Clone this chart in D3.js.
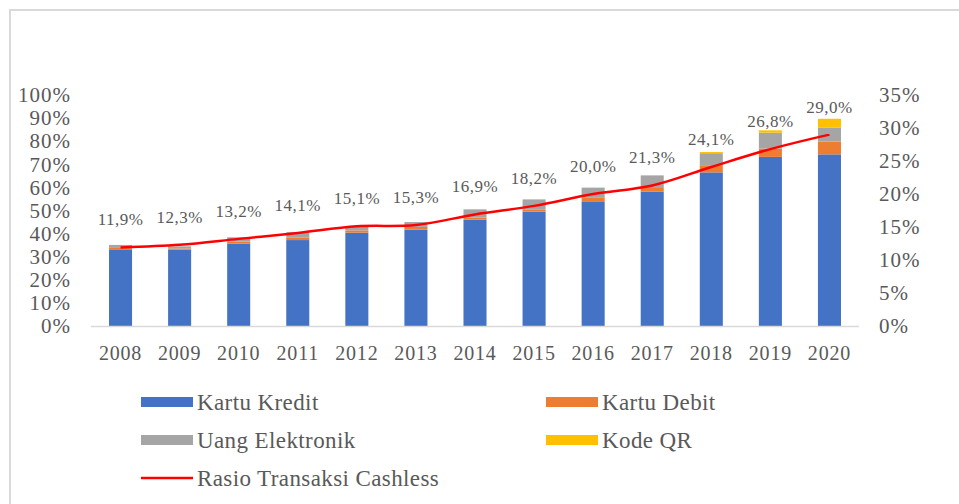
<!DOCTYPE html>
<html>
<head>
<meta charset="utf-8">
<script src="https://cdn.jsdelivr.net/npm/d3@7"></script>
<style>
  body { margin: 0; background: #fff; }
  svg text { font-family: "Liberation Serif", "Times New Roman", serif; fill: #595959; }
</style>
</head>
<body>
<svg width="959" height="504"></svg>
<script>
const years = ["2008","2009","2010","2011","2012","2013","2014","2015","2016","2017","2018","2019","2020"]

// share of each instrument (%), stacked
const kartuKredit = [33.2, 33.0, 35.6, 37.2, 40.4, 41.7, 46.0, 49.5, 53.7, 58.1, 66.5, 73.2, 74.3]
const kartuDebit = [0.9, 0.6, 0.9, 1.0, 1.0, 1.2, 0.9, 1.0, 2.0, 2.0, 2.8, 3.6, 5.5]
const uangElektronik = [1.0, 0.9, 1.9, 2.4, 1.6, 2.1, 3.6, 4.3, 4.2, 5.1, 5.5, 6.9, 6.0]
const kodeQR = [0, 0, 0, 0, 0, 0, 0, 0, 0, 0, 0.5, 1.0, 3.9]

// cashless transaction ratio (%), right axis
const rasio = [11.9, 12.3, 13.2, 14.1, 15.1, 15.3, 16.9, 18.2, 20.0, 21.3, 24.1, 26.8, 29.0]

const leftTicks = [0,10,20,30,40,50,60,70,80,90,100]
const rightTicks = [0,5,10,15,20,25,30,35]

const seriesNames = ["Kartu Kredit", "Kartu Debit", "Uang Elektronik", "Kode QR"]
const colors = ["#4472c4", "#ed7d31", "#a5a5a5", "#ffc000"]

const svg = d3.select("svg")

// outer frame
svg.append("path")
    .attr("d", "M10,504 V10 H959")
    .attr("fill", "none")
    .attr("stroke", "#d9d9d9")
    .attr("stroke-width", 2)

const x = d3.scaleBand()
    .domain(years)
    .range([91, 859])
    .paddingInner(0.61)
    .paddingOuter(0.305)

const yLeft = d3.scaleLinear().domain([0, 100]).range([326, 95])
const yRight = d3.scaleLinear().domain([0, 35]).range([326, 95])

const table = years.map((yr, i) => ({
    year: yr,
    "Kartu Kredit": kartuKredit[i],
    "Kartu Debit": kartuDebit[i],
    "Uang Elektronik": uangElektronik[i],
    "Kode QR": kodeQR[i]
}))

const stacked = d3.stack().keys(seriesNames)(table)

svg.append("g")
    .selectAll("g")
    .data(stacked)
    .join("g")
    .attr("fill", (d, i) => colors[i])
    .selectAll("rect")
    .data(d => d)
    .join("rect")
    .attr("x", d => x(d.data.year))
    .attr("width", x.bandwidth())
    .attr("y", d => yLeft(d[1]))
    .attr("height", d => yLeft(d[0]) - yLeft(d[1]))

// baseline
svg.append("line")
    .attr("x1", 91).attr("x2", 859)
    .attr("y1", yLeft(0) + 0.5).attr("y2", yLeft(0) + 0.5)
    .attr("stroke", "#d9d9d9")
    .attr("stroke-width", 1.5)

// left axis
const leftAxis = svg.append("g")
    .attr("transform", "translate(71,0)")
    .call(d3.axisLeft(yLeft).tickValues(leftTicks).tickSize(0).tickPadding(0).tickFormat(d => d + "%"))
leftAxis.select(".domain").remove()

// right axis
const rightAxis = svg.append("g")
    .attr("transform", "translate(879,0)")
    .call(d3.axisRight(yRight).tickValues(rightTicks).tickSize(0).tickPadding(0).tickFormat(d => d + "%"))
rightAxis.select(".domain").remove()

// x axis labels
const xAxis = svg.append("g")
    .attr("transform", "translate(0,346)")
    .call(d3.axisBottom(x).tickSize(0).tickPadding(0))
xAxis.select(".domain").remove()

svg.selectAll(".tick text")
    .style("font-family", "Liberation Serif, serif")
    .style("font-size", "21px")
    .style("letter-spacing", "1px")
    .attr("fill", "#595959")

xAxis.selectAll(".tick text")
    .style("font-size", "20px")
    .style("letter-spacing", "0.8px")

// ratio line
const cx = d => x(d) + x.bandwidth() / 2
const lineGen = d3.line()
    .x((d, i) => cx(years[i]))
    .y(d => yRight(d))
    .curve(d3.curveCatmullRom)

svg.append("path")
    .datum(rasio)
    .attr("d", lineGen)
    .attr("fill", "none")
    .attr("stroke", "#ff0000")
    .attr("stroke-width", 2.5)

// data labels
svg.append("g")
    .selectAll("text")
    .data(rasio)
    .join("text")
    .attr("x", (d, i) => cx(years[i]))
    .attr("y", d => yRight(d) - 22)
    .attr("text-anchor", "middle")
    .style("font-size", "17px")
    .style("letter-spacing", "0.5px")
    .text(d => d.toFixed(1).replace(".", ",") + "%")

// legend
const legendItems = [
    {name: "Kartu Kredit", color: colors[0], col: 0, row: 0},
    {name: "Kartu Debit", color: colors[1], col: 1, row: 0},
    {name: "Uang Elektronik", color: colors[2], col: 0, row: 1},
    {name: "Kode QR", color: colors[3], col: 1, row: 1},
    {name: "Rasio Transaksi Cashless", color: "#ff0000", col: 0, row: 2, line: true}
]
const colX = [141, 546]

const legend = svg.append("g")
    .selectAll("g")
    .data(legendItems)
    .join("g")
    .attr("transform", d => `translate(${colX[d.col]},${402 + d.row * 38})`)

legend.filter(d => !d.line)
    .append("rect")
    .attr("x", 0).attr("y", -5)
    .attr("width", 52).attr("height", 10)
    .attr("fill", d => d.color)

legend.filter(d => d.line)
    .append("line")
    .attr("x1", 0).attr("x2", 52)
    .attr("y1", 0).attr("y2", 0)
    .attr("stroke", d => d.color)
    .attr("stroke-width", 2.5)

legend.append("text")
    .attr("x", 56)
    .attr("dy", "0.35em")
    .style("font-size", "23px")
    .style("letter-spacing", "0.4px")
    .text(d => d.name)
</script>
</body>
</html>
